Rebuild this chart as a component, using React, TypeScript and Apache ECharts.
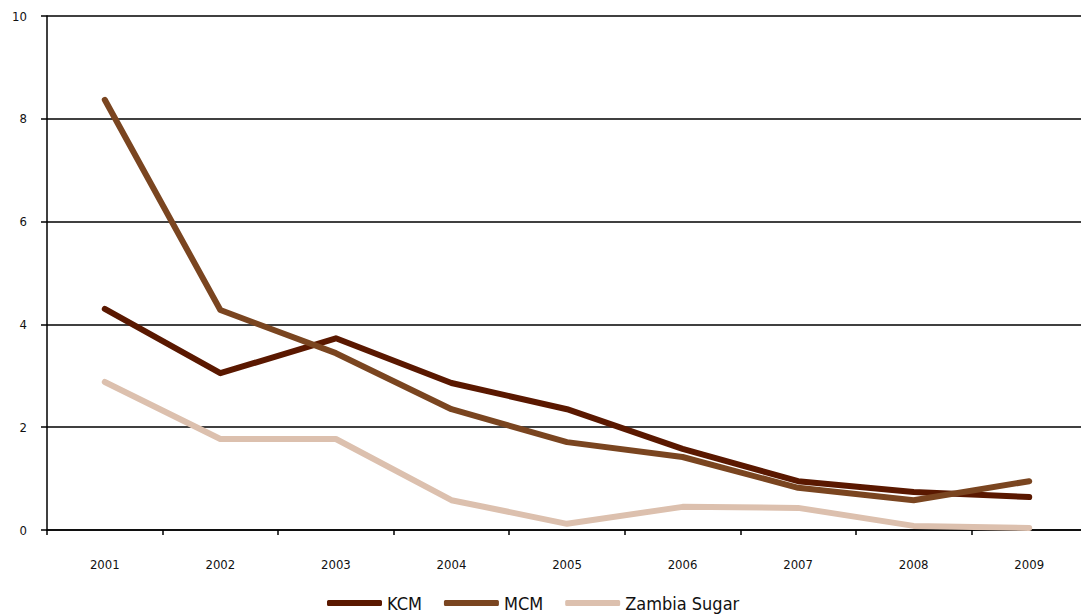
import * as echarts from "echarts";
import React, { useEffect, useRef } from "react";

const years = ["2001", "2002", "2003", "2004", "2005", "2006", "2007", "2008", "2009"];
const kcm = [4.3, 3.05, 3.73, 2.86, 2.35, 1.58, 0.95, 0.74, 0.64];
const mcm = [8.37, 4.28, 3.44, 2.35, 1.71, 1.42, 0.82, 0.58, 0.95];
const zambiaSugar = [2.88, 1.77, 1.77, 0.58, 0.12, 0.45, 0.43, 0.08, 0.04];

const FONT = "'Liberation Sans Narrow', 'DejaVu Sans Condensed', 'Roboto', sans-serif";

const line = (name: string, data: number[], color: string) => ({
	name,
	type: "line",
	data,
	symbol: "none",
	showSymbol: false,
	itemStyle: { color },
	lineStyle: { color, width: 6, cap: "round", join: "round" },
});

export default function App() {
	const ref = useRef<HTMLDivElement>(null);

	useEffect(() => {
		// the plot runs a little past the right edge of the picture
		document.body.style.margin = "0";
		document.body.style.overflow = "hidden";
		document.documentElement.style.overflow = "hidden";
		const chart = echarts.init(ref.current, undefined, { renderer: "svg" });
		chart.setOption({
			animation: false,
			textStyle: { fontFamily: FONT },
			grid: { left: 47, right: 0, top: 16, bottom: 84, containLabel: false },
			legend: {
				top: 589,
				left: 322,
				icon: "roundRect",
				itemWidth: 55,
				itemHeight: 6,
				itemGap: 22,
				itemStyle: { borderWidth: 0 },
				textStyle: { fontSize: 18, color: "#111", fontFamily: FONT },
				data: ["KCM", "MCM", "Zambia Sugar"],
			},
			xAxis: {
				type: "category",
				data: years,
				boundaryGap: true,
				axisLine: { lineStyle: { color: "#000", width: 1.5 } },
				axisTick: { show: true, length: 5, lineStyle: { color: "#000", width: 1.5 } },
				axisLabel: { margin: 28, fontSize: 13, fontWeight: 500, color: "#111", fontFamily: FONT },
			},
			yAxis: {
				type: "value",
				min: 0,
				max: 10,
				interval: 2,
				axisLine: { show: true, lineStyle: { color: "#000", width: 1.5 } },
				axisTick: { show: true, length: 6, lineStyle: { color: "#000", width: 1.5 } },
				axisLabel: { margin: 20, fontSize: 13, fontWeight: 500, color: "#111", fontFamily: FONT },
				splitLine: { show: true, lineStyle: { color: "#000", width: 1.5 } },
			},
			series: [
				line("KCM", kcm, "#5a1800"),
				line("MCM", mcm, "#7a4520"),
				line("Zambia Sugar", zambiaSugar, "#dcc0ae"),
			],
		});
		return () => chart.dispose();
	}, []);

	return <div ref={ref} style={{ width: 1087, height: 614 }} />;
}
